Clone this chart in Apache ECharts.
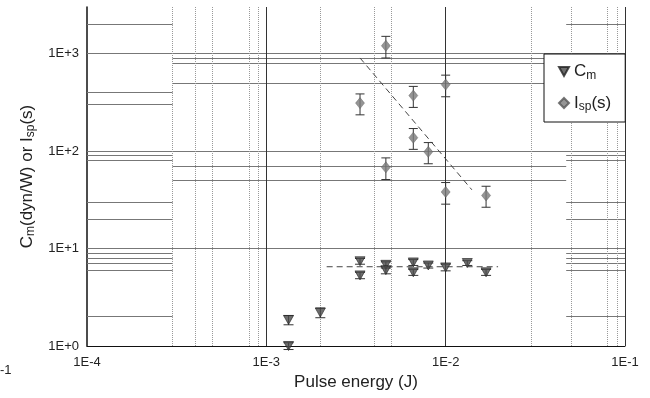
<!DOCTYPE html>
<html>
<head>
<meta charset="utf-8">
<script src="https://cdn.jsdelivr.net/npm/echarts@6/dist/echarts.min.js"></script>
<style>
  html, body { margin: 0; padding: 0; background: #fff; }
  #chart { width: 650px; height: 398px; }
</style>
</head>
<body>
<div id="chart"></div>
<script>
// Isp(s) measurements
const ispEnergy = [3.33e-3, 4.64e-3, 4.64e-3, 6.6e-3, 6.6e-3, 8e-3, 1e-2, 1e-2, 1.68e-2]
const ispValue = [310, 1200, 68, 370, 137, 98, 480, 38, 35]
const ispErr = [75, 300, 17, 90, 33, 24, 120, 9.5, 8.5]

// Cm(dyn/W) measurements
const cmEnergy = [1.33e-3, 1.33e-3, 2e-3, 3.33e-3, 3.33e-3, 4.64e-3, 4.64e-3, 6.6e-3, 6.6e-3, 8e-3, 1e-2, 1.32e-2, 1.68e-2]
const cmValue = [1.85, 1.0, 2.2, 7.4, 5.3, 6.8, 6.0, 7.2, 5.7, 6.7, 6.4, 7.1, 5.7]
const cmErr = [0.2, 0.08, 0.25, 0.5, 0.4, 0.5, 0.5, 0.5, 0.4, 0.4, 0.5, 0.4, 0.4]

// dashed trend lines (end points)
const cmFitE = [2.17e-3, 1.96e-2]
const cmFitV = [6.5, 6.5]
const ispFitE = [3.33e-3, 1.4e-2]
const ispFitV = [900, 40]

// scanned grid lines
const gridXs = [3e-4, 4e-4, 5e-4, 8e-4, 9e-4, 1e-3, 2e-3, 4e-3, 5e-3, 1e-2, 3e-2, 5e-2, 8e-2, 9e-2, 1e-1]
const gridYsFull = [1000, 100, 10]
const gridYsLeft = [2000, 400, 300, 90, 80, 30, 20, 9, 8, 7, 6, 2]
const gridYsMid = [900, 800, 500, 70, 50]
const gridYsRight = [2000, 90, 80, 30, 20, 9, 8, 7, 6, 2]

const xMin = 1e-4, xMax = 1e-1, yMin = 1, yMax = 3000

function zip (a, b, c) {
    return a.map((v, i) => c ? [v, b[i], c[i]] : [v, b[i]])
}

function isDecade (v) {
    let l = Math.log10(v)
    return Math.abs(l - Math.round(l)) < 1e-6
}

function expLabel (v) {
    if (!isDecade(v)) return ''
    let e = Math.round(Math.log10(v))
    return '1E' + (e >= 0 ? '+' : '') + e
}

let hLines = []
gridYsFull.forEach(y => hLines.push({ coords: [[xMin, y], [xMax, y]] }))
gridYsLeft.forEach(y => hLines.push({ coords: [[xMin, y], [3e-4, y]] }))
gridYsMid.forEach(y => hLines.push({ coords: [[3e-4, y], [y > 300 ? 3.6e-2 : 4.7e-2, y]] }))
gridYsRight.forEach(y => hLines.push({ coords: [[4.7e-2, y], [xMax, y]] }))

let vLines = gridXs.map(x => ({
    coords: [[x, yMin], [x, yMax]],
    lineStyle: isDecade(x)
        ? { color: '#333', type: 'solid', width: 1 }
        : { color: '#999', type: 'dotted', width: 1 }
}))

function errorBars (capW) {
    return function (params, api) {
        let x = api.value(0), y = api.value(1), e = api.value(2)
        let hi = api.coord([x, y + e])
        let lo = api.coord([x, y - e])
        let style = { stroke: '#333', lineWidth: 1 }
        return {
            type: 'group',
            children: [
                { type: 'line', shape: { x1: hi[0], y1: hi[1], x2: lo[0], y2: lo[1] }, style: style },
                { type: 'line', shape: { x1: hi[0] - capW / 2, y1: hi[1], x2: hi[0] + capW / 2, y2: hi[1] }, style: style },
                { type: 'line', shape: { x1: lo[0] - capW / 2, y1: lo[1], x2: lo[0] + capW / 2, y2: lo[1] }, style: style }
            ]
        }
    }
}

const labelRich = {
    a: { fontSize: 17, fontFamily: 'Liberation Sans', color: '#222' },
    s: { fontSize: 12, fontFamily: 'Liberation Sans', color: '#222', padding: [8, 0, 0, 0] }
}

let chart = echarts.init(document.getElementById('chart'))
let option = {
    animation: false,
    backgroundColor: '#fff',
    grid: { left: 87, right: 25, top: 7, bottom: 52 },
    legend: {
        data: [
            { name: 'Cm', icon: 'path://M0,0 L10,0 L5,9 Z' },
            { name: 'Isp', icon: 'diamond' }
        ],
        orient: 'vertical',
        left: 544,
        top: 54,
        padding: [9, 14, 9, 14],
        itemWidth: 10,
        itemHeight: 10,
        itemGap: 13,
        backgroundColor: '#fff',
        borderColor: '#111',
        borderWidth: 1,
        borderRadius: 0,
        formatter: name => name === 'Cm' ? '{a|C}{s|m}' : '{a|I}{s|sp}{a|(s)}',
        textStyle: { rich: labelRich }
    },
    xAxis: {
        type: 'log',
        logBase: 10,
        min: xMin,
        max: xMax,
        name: 'Pulse energy (J)',
        nameLocation: 'middle',
        nameGap: 28,
        nameTextStyle: { fontSize: 17, fontFamily: 'Liberation Sans', color: '#222' },
        axisLine: { lineStyle: { color: '#111', width: 1 } },
        axisTick: { show: false },
        splitLine: { show: false },
        minorTick: { show: false },
        axisLabel: { formatter: expLabel, fontSize: 13, fontFamily: 'Liberation Sans', color: '#222', margin: 10 }
    },
    yAxis: {
        type: 'log',
        logBase: 10,
        min: yMin,
        max: yMax,
        name: '{a|C}{s|m}{a|(dyn/W) or I}{s|sp}{a|(s)}',
        nameLocation: 'middle',
        nameGap: 50,
        nameTextStyle: { rich: labelRich },
        axisLine: { lineStyle: { color: '#111', width: 1.5 } },
        axisTick: { show: false },
        splitLine: { show: false },
        axisLabel: { formatter: expLabel, fontSize: 13, fontFamily: 'Liberation Sans', color: '#222', margin: 8 }
    },
    graphic: [
        { type: 'text', left: 0, top: 364, style: { text: '-1', fontSize: 13, fontFamily: 'Liberation Sans', fill: '#222' } }
    ],
    series: [
        {
            type: 'lines',
            coordinateSystem: 'cartesian2d',
            silent: true,
            z: 1,
            lineStyle: { color: '#777', width: 1, opacity: 1 },
            data: hLines
        },
        {
            type: 'lines',
            coordinateSystem: 'cartesian2d',
            silent: true,
            z: 1,
            lineStyle: { color: '#999', width: 1, opacity: 1 },
            data: vLines
        },
        {
            type: 'line',
            silent: true,
            symbol: 'none',
            z: 3,
            lineStyle: { color: '#444', width: 1, type: [6, 4] },
            data: zip(cmFitE, cmFitV)
        },
        {
            type: 'line',
            silent: true,
            symbol: 'none',
            z: 3,
            lineStyle: { color: '#444', width: 1, type: [6, 4] },
            data: zip(ispFitE, ispFitV)
        },
        {
            type: 'custom',
            silent: true,
            z: 4,
            clip: false,
            renderItem: errorBars(9),
            encode: { x: 0, y: 1 },
            data: zip(ispEnergy, ispValue, ispErr)
        },
        {
            type: 'custom',
            silent: true,
            z: 4,
            clip: false,
            renderItem: errorBars(10),
            encode: { x: 0, y: 1 },
            data: zip(cmEnergy, cmValue, cmErr)
        },
        {
            name: 'Cm',
            type: 'scatter',
            z: 5,
            symbol: 'triangle',
            symbolRotate: 180,
            symbolSize: [10, 9],
            itemStyle: { color: '#4a4a4a', borderColor: '#222', borderWidth: 0.8 },
            data: zip(cmEnergy, cmValue)
        },
        {
            name: 'Isp',
            type: 'scatter',
            z: 5,
            symbol: 'diamond',
            symbolSize: [9, 11],
            itemStyle: { color: '#7a7a7a', borderColor: '#555', borderWidth: 0.5 },
            data: zip(ispEnergy, ispValue)
        }
    ]
}
chart.setOption(option)
</script>
</body>
</html>
